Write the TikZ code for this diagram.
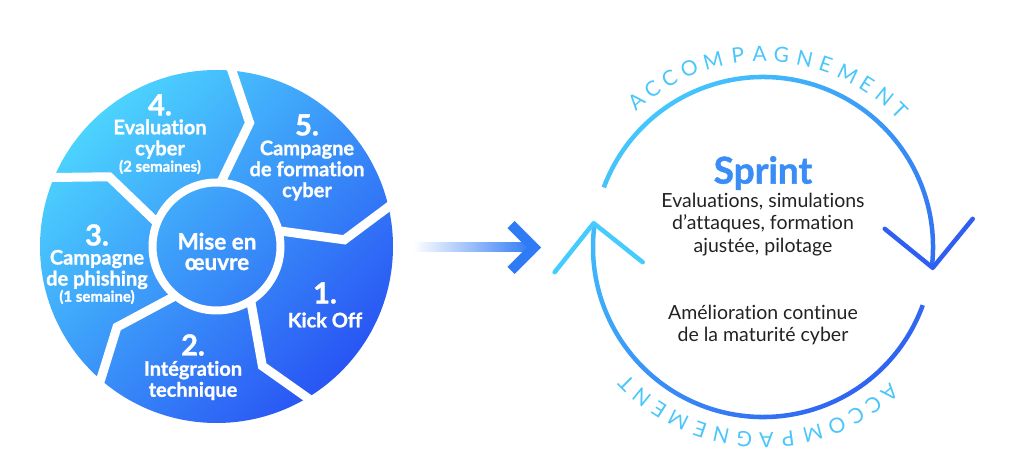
\documentclass[tikz,border=0pt]{standalone}
\usepackage{fontspec}
\setmainfont{Lato}[Ligatures=NoCommon]
\newfontfamily\heavyfont{Lato}[FakeBold=1.2, Ligatures=NoCommon]

\definecolor{pieLight}{HTML}{4CD3FE}
\definecolor{pieDark}{HTML}{2955F4}
\definecolor{arcCyan}{HTML}{45CBFC}
\definecolor{arcBlue}{HTML}{2E5FF2}
\definecolor{sprintBlue}{HTML}{3A8DF7}
\definecolor{bodyGray}{HTML}{222222}
\definecolor{letterCyan}{HTML}{4AC6FA}
\definecolor{barCyan}{HTML}{45C6FB}
\definecolor{barBlue}{HTML}{2F7AF5}

\begin{document}
\begin{tikzpicture}[x=1pt,y=1pt]

% --- Stijldefinities ---
\tikzset{
    pieDisc/.style={
        top color=pieLight,
        bottom color=pieDark,
        shading angle=45
    },
    gapLine/.style={
        draw=white,
        line width=9pt,
        line join=miter
    },
    gapRing/.style={
        draw=white,
        line width=8pt
    },
    pieNum/.style={
        font=\fontsize{29}{29}\selectfont\heavyfont\bfseries,
        text=white,
        inner sep=0pt
    },
    pieText/.style={
        font=\fontsize{20}{21}\selectfont\heavyfont\bfseries,
        text=white,
        align=center,
        inner sep=0pt
    },
    pieSmall/.style={
        font=\fontsize{15}{15}\selectfont\heavyfont\bfseries,
        text=white,
        inner sep=0pt
    },
    centerText/.style={
        font=\fontsize{22.5}{20.5}\selectfont\heavyfont\bfseries,
        text=white,
        align=center,
        inner sep=0pt
    },
    barHead/.style={
        draw=barBlue,
        line width=10pt,
        line join=miter
    },
    cycleArc/.style={
        top color=arcCyan,
        bottom color=arcBlue,
        shading angle=45
    },
    arrowArm/.style={
        line width=4.5pt,
        line cap=round,
        line join=round
    },
    sprintTitle/.style={
        font=\fontsize{37}{37}\selectfont\heavyfont\bfseries,
        text=sprintBlue,
        inner sep=0pt
    },
    bodyText/.style={
        font=\fontsize{19.5}{22.5}\selectfont,
        text=bodyGray,
        align=center,
        inner sep=0pt
    },
    arcLetter/.style={
        font=\fontsize{21}{21}\selectfont,
        text=letterCyan,
        inner sep=0pt
    }
}

\useasboundingbox (0,0) rectangle (1011,471);

% =========================================================
% Linker figuur: de vijf stappen
% =========================================================

\begin{scope}[shift={(216.5,224.5)}]
    \shade[pieDisc] (0,0) circle[radius=176.5pt];
    \draw[gapRing] (0,0) circle[radius=64pt];
    % Witte pijlvormige scheidingen
    \foreach \a in {87,15,-57,-129,-201}
        \draw[gapLine] (\a:62) -- ({\a-12}:128) -- (\a:192);
\end{scope}

% Labels
\node[pieNum]  (num4) at (160,366) {4.};
\node[pieText] (txt4) at (160,332) {Evaluation\\cyber};
\node[pieSmall] (sub4) at (160,304) {(2 semaines)};

\node[pieNum]  (num5) at (307,346) {5.};
\node[pieText] (txt5) at (307,300.5) {Campagne\\de formation\\cyber};

\node[pieNum]  (num3) at (97,236) {3.};
\node[pieText] (txt3) at (97,201.5) {Campagne\\de phishing};
\node[pieSmall] (sub3) at (97,174) {(1 semaine)};

\node[pieNum]  (num1) at (325,178) {1.};
\node[pieText] (txt1) at (325,151) {Kick Off};

\node[pieNum]  (num2) at (193,126) {2.};
\node[pieText] (txt2) at (193,90.5) {Intégration\\technique};

\node[centerText] (center) at (217,219.5) {Mise en\\œuvre};

% =========================================================
% Middelste pijl
% =========================================================

\coordinate (barStart) at (413,223.5);
\coordinate (barTip) at (534,223.5);
\shade[left color=white, middle color=barCyan, right color=barBlue]
    ([yshift=-4.5pt]barStart) rectangle ([xshift=-2pt,yshift=4.5pt]barTip);
\draw[barHead] ([shift={(-23,23)}]barTip) -- (barTip) -- ([shift={(-23,-23)}]barTip);

% =========================================================
% Rechter figuur: sprintcyclus
% =========================================================

\coordinate (cycleC) at (763,224);

\begin{scope}[shift={(cycleC)}]
    \shade[cycleArc]
        (159.5:172.25) arc[start angle=159.5, end angle=-7, radius=172.25pt]
        -- (-7:167.75) arc[start angle=-7, end angle=159.5, radius=167.75pt] -- cycle
        (-20:172.25) arc[start angle=-20, end angle=-188, radius=172.25pt]
        -- (172:167.75) arc[start angle=-188, end angle=-20, radius=167.75pt] -- cycle;

    % Pijlpunten
    \coordinate (tipR) at (-7:171);
    \coordinate (tipL) at (172:171);
    \draw[arrowArm, draw=arcBlue] ([shift={(-48,39)}]tipR) -- (tipR) -- ([shift={(40,49)}]tipR);
    \draw[arrowArm, draw=arcCyan] ([shift={(-39,-49)}]tipL) -- (tipL) -- ([shift={(49,-39)}]tipL);

    % Gebogen tekst boven en onder
    \foreach \ch/\ang [count=\i] in {A/131,C/125,C/119,O/112.5,M/105,P/97.5,A/91,
                                     G/84.5,N/77.5,E/71,M/64,E/57.5,N/51,T/45} {
        \node[arcLetter, rotate=\ang-90] (accTop\i) at (\ang:193) {\ch};
        \node[arcLetter, rotate=\ang+90] (accBot\i) at ({\ang+180}:193) {\ch};
    }
\end{scope}

% Teksten in de cyclus
\node[sprintTitle] (sprint) at (763,298) {Sprint};
\node[bodyText] (sprintBody) at (763,246.5) {Evaluations, simulations\\d’attaques, formation\\ajustée, pilotage};
\node[bodyText] (maturity) at (763,146) {Amélioration continue\\de la maturité cyber};

\end{tikzpicture}
\end{document}
